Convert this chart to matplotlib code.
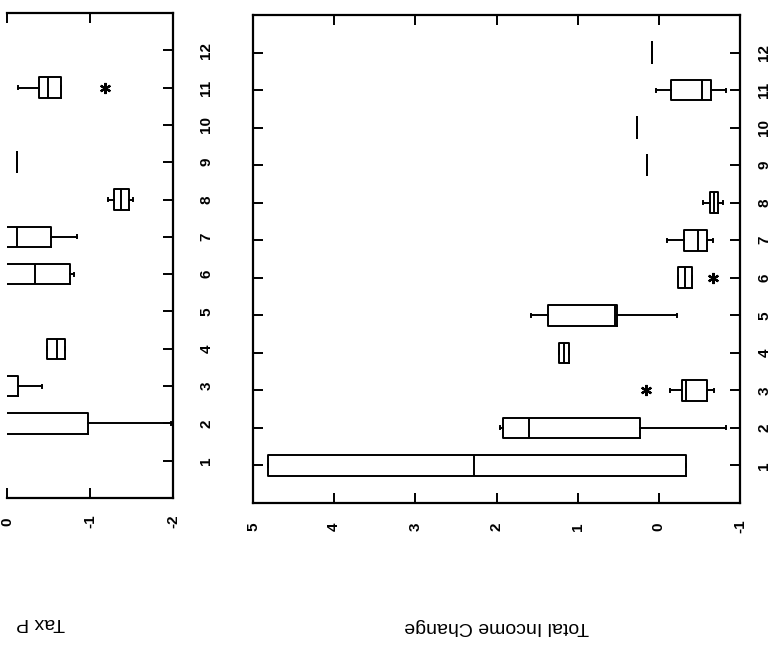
import matplotlib
matplotlib.use("Agg")
import matplotlib.pyplot as plt

plt.rcParams['font.family'] = ['Liberation Sans', 'DejaVu Sans']

# Groups 1..12 on the vertical axis
groups = list(range(1, 13))

# Total Income Change: five-number summaries per group
inc_whislo = [-0.33, -0.83, -0.68, 1.11, -0.22, -0.41, -0.67, -0.79, 0.15, 0.27, -0.83, 0.09]
inc_q1 = [-0.33, 0.23, -0.59, 1.11, 0.52, -0.41, -0.59, -0.73, 0.15, 0.27, -0.64, 0.09]
inc_med = [2.28, 1.60, -0.33, 1.17, 0.54, -0.32, -0.48, -0.68, 0.15, 0.27, -0.53, 0.09]
inc_q3 = [4.82, 1.92, -0.28, 1.23, 1.37, -0.23, -0.31, -0.63, 0.15, 0.27, -0.15, 0.09]
inc_whishi = [4.82, 1.96, -0.14, 1.23, 1.58, -0.23, -0.10, -0.54, 0.15, 0.27, 0.04, 0.09]
inc_fliers = [[], [], [0.16], [], [], [-0.67], [], [], [], [], [], []]

# Tax panel (only the part between 0 and -2 is shown)
tax_groups = [2, 3, 4, 6, 7, 8, 9, 11]
tax_whislo = [-1.97, -0.42, -0.70, -0.81, -0.84, -1.52, -0.12, -0.65]
tax_q1 = [-0.98, -0.13, -0.70, -0.76, -0.53, -1.47, -0.12, -0.65]
tax_med = [0.30, 0.20, -0.60, -0.34, -0.12, -1.37, -0.12, -0.49]
tax_q3 = [0.80, 0.50, -0.48, 0.30, 0.30, -1.29, -0.12, -0.39]
tax_whishi = [0.80, 0.50, -0.48, 0.30, 0.30, -1.22, -0.12, -0.13]
tax_fliers = [[], [], [], [], [], [], [], [-1.18]]

inc_ticks = [5, 4, 3, 2, 1, 0, -1]
tax_ticks = [0, -1, -2]


def summaries(lo, q1, med, q3, hi, fl):
    return [dict(whislo=a, q1=b, med=c, q3=d, whishi=e, fliers=f)
            for a, b, c, d, e, f in zip(lo, q1, med, q3, hi, fl)]


def draw_boxes(ax, stats, pos):
    line = dict(color='black', linewidth=1.4)
    ax.bxp(stats, positions=pos, widths=0.55, orientation='horizontal',
           boxprops=line, medianprops=line, whiskerprops=line,
           capprops=line, capwidths=0.08,
           flierprops=dict(marker=(6, 2, 0), markersize=8,
                           markeredgecolor='black', markeredgewidth=1.6,
                           linestyle='none'),
           manage_ticks=False)


def style_axes(ax, xticks, ylab_pad):
    ax.set_ylim(0, 13)
    ax.set_xticks(xticks)
    ax.set_xticklabels([str(t) for t in xticks])
    ax.set_yticks(groups)
    ax.set_yticklabels([str(g) for g in groups])
    ax.tick_params(axis='both', direction='in', top=True, right=True,
                   length=7, width=1.4, labelsize=11)
    ax.tick_params(axis='x', labelrotation=90, pad=17)
    ax.tick_params(axis='y', labelleft=False, labelright=True,
                   labelrotation=90, pad=ylab_pad)
    for t in ax.get_xticklabels():
        t.set_va('center')
        t.set_fontweight('bold')
    for t in ax.get_yticklabels():
        t.set_ha('center')
        t.set_va('center')
        t.set_fontweight('bold')
    for s in ax.spines.values():
        s.set_linewidth(1.6)


fig = plt.figure(figsize=(7.75, 6.46), dpi=100)

# main panel
ax = fig.add_axes([253 / 775, 1 - 503 / 646, 487 / 775, 488 / 646])
draw_boxes(ax, summaries(inc_whislo, inc_q1, inc_med, inc_q3, inc_whishi, inc_fliers), groups)
ax.set_xlim(5, -1)
style_axes(ax, inc_ticks, 17.5)

# tax panel, cut off at the left edge
ax2 = fig.add_axes([7 / 775, 1 - 498 / 646, 166 / 775, 485 / 646])
draw_boxes(ax2, summaries(tax_whislo, tax_q1, tax_med, tax_q3, tax_whishi, tax_fliers), tax_groups)
ax2.set_xlim(0, -2)
style_axes(ax2, tax_ticks, 24)
ax2.spines['left'].set_visible(False)
ax2.tick_params(axis='y', left=False)

fig.text(497 / 775, 1 - 626 / 646, 'Total Income Change', rotation=180,
         ha='center', va='center', fontsize=14)
fig.text(65 / 775, 1 - 622 / 646, 'Tax P', rotation=180,
         ha='right', va='center', fontsize=14)

fig.savefig('out.png', dpi=100)
